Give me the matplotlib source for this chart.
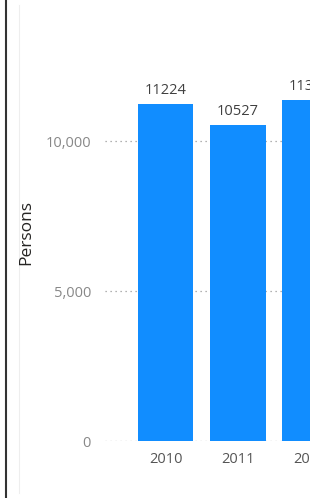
import matplotlib.pyplot as plt
from matplotlib.lines import Line2D

# dane
lata = ['2010', '2011', '2012']
osoby = [11224, 10527, 11367]
ticki_y = [0, 5000, 10000]

plt.rcParams['font.family'] = ['Open Sans', 'DejaVu Sans']

fig = plt.figure(figsize=(3.10, 4.98), dpi=100)
ax = fig.add_axes([105 / 310, 57 / 498, 205 / 310, 1 - 57 / 498])

x = range(len(lata))
ax.bar(x, osoby, width=0.77, color='#118DFF', zorder=3)

# etykiety wartosci nad slupkami
for xi, v in zip(x, osoby):
    ax.text(xi, v + 200, str(v), ha='center', va='bottom',
            fontsize=10.5, color='#404040', zorder=4)

# siatka kropkowana
for t in ticki_y:
    ax.axhline(t, color='#999999', linestyle=(0, (1, 3)), linewidth=0.9, zorder=1)

ax.set_xlim(-0.84, 1.874)
ax.set_ylim(0, 441 / 150 * 5000)
ax.set_xticks(list(x))
ax.set_xticklabels(lata, fontsize=10.5, color='#555555')
ax.set_yticks(ticki_y)
ax.set_yticklabels([f'{t:,}' for t in ticki_y], fontsize=10.5, color='#888888')
ax.tick_params(length=0)
ax.tick_params(axis='x', pad=8)
ax.tick_params(axis='y', pad=10)
for s in ax.spines.values():
    s.set_visible(False)

fig.text(26 / 310, 1 - 232 / 498, 'Persons', rotation=90, ha='center', va='center',
         fontsize=12.5, color='#252423')

# ramka po lewej
fig.add_artist(Line2D([6 / 310, 6 / 310], [0, 1], color='#333333', linewidth=1.5))
fig.add_artist(Line2D([19 / 310, 19 / 310], [0.01, 0.99], color='#eeeeee', linewidth=0.8))

fig.savefig('out.png', dpi=100)
